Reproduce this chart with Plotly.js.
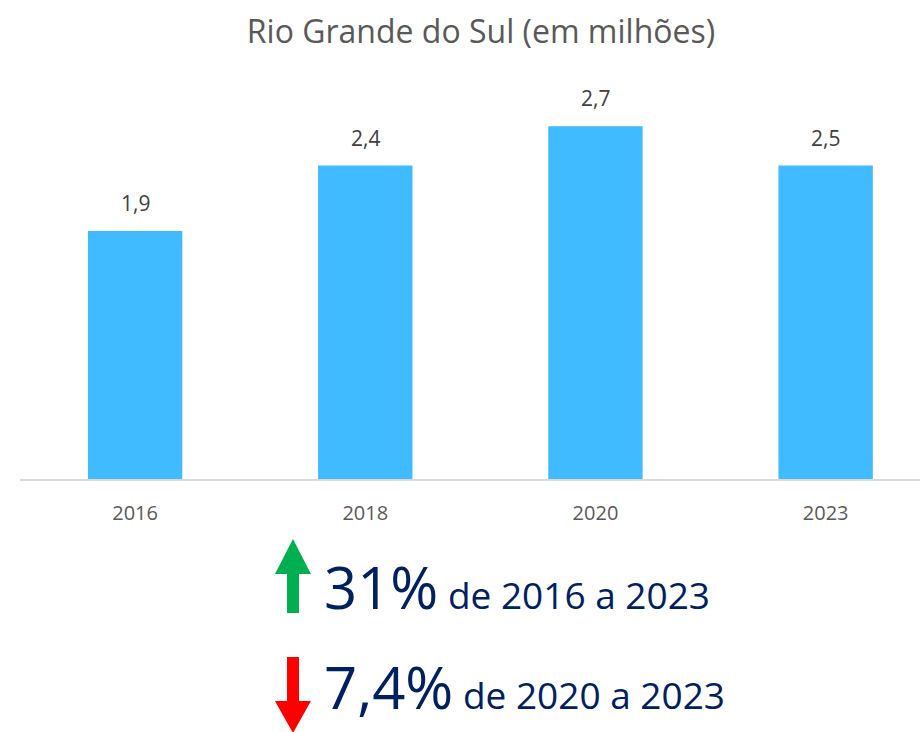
<!DOCTYPE html>
<html>
<head>
<meta charset="utf-8">
<script src="https://cdn.plot.ly/plotly-3.0.1.min.js"></script>
<style>html,body{margin:0;padding:0;background:#fff;overflow:hidden;}</style>
</head>
<body>
<div id="chart" style="width:920px;height:732px;"></div>
<script>
const categories = ["2016", "2018", "2020", "2023"];
const values = [1.9, 2.4, 2.7, 2.4];
const valueLabels = ["1,9", "2,4", "2,7", "2,5"];
const chartTitle = "Rio Grande do Sul (em milhões)";
const notes = [
  {big: "31%", small: " de 2016 a 2023", dir: "up"},
  {big: "7,4%", small: " de 2020 a 2023", dir: "down"}
];

const W = 920, H = 732;
const L = 20, R = 0, T = 87, B = 252;
const pw = W - L - R, ph = H - T - B;
const px = x => (x - L) / pw;
const py = y => (H - B - y) / ph;

function arrowPath(x0, x1, sx0, sx1, yTip, yHead, yEnd) {
  const pts = [[ (x0 + x1) / 2, yTip ], [x1, yHead], [sx1, yHead], [sx1, yEnd], [sx0, yEnd], [sx0, yHead], [x0, yHead]];
  return "M" + pts.map(p => px(p[0]).toFixed(4) + "," + py(p[1]).toFixed(4)).join(" L") + " Z";
}

const trace = {
  type: "bar",
  x: categories,
  y: values,
  marker: {color: "#40BBFF"},
  width: 0.41,
  hoverinfo: "skip"
};

const annotations = categories.map((c, i) => ({
  x: i, y: values[i], xref: "x", yref: "y",
  text: valueLabels[i], showarrow: false,
  yanchor: "bottom", yshift: 12,
  font: {family: "Open Sans, sans-serif", size: 21, color: "#404040"}
}));

const noteY = [586, 686];
notes.forEach((n, i) => {
  annotations.push({
    xref: "paper", yref: "paper",
    x: px(322), y: py(noteY[i]),
    xanchor: "left", yanchor: "middle",
    showarrow: false,
    text: n.big + "<span style='font-size:37px'>" + n.small + "</span>",
    font: {family: "Open Sans, sans-serif", size: 58, color: "#002060"}
  });
});

const shapes = [
  {type: "path", xref: "paper", yref: "paper", line: {width: 0}, fillcolor: "#00B050",
   path: arrowPath(275, 311, 287, 299, 539, 574, 613)},
  {type: "path", xref: "paper", yref: "paper", line: {width: 0}, fillcolor: "#FF0000",
   path: arrowPath(275, 311, 287, 299, 733, 701, 657)},
  {type: "line", xref: "paper", yref: "paper", x0: 0, x1: 1, y0: 0, y1: 0,
   line: {color: "#D9D9D9", width: 2}}
];

const layout = {
  width: W, height: H,
  margin: {l: L, r: R, t: T, b: B},
  paper_bgcolor: "#ffffff", plot_bgcolor: "#ffffff",
  showlegend: false,
  title: {
    text: chartTitle,
    font: {family: "Open Sans, sans-serif", size: 32, color: "#595959"},
    x: 481 / W, xref: "container", xanchor: "center",
    y: 1 - 32 / H, yref: "container", yanchor: "middle"
  },
  xaxis: {
    type: "category",
    range: [-0.5, 3.41],
    showgrid: false, zeroline: false, showline: false,
    ticks: "", ticklabelstandoff: 19,
    tickfont: {family: "Open Sans, sans-serif", size: 20, color: "#595959"},
    fixedrange: true
  },
  yaxis: {
    range: [0, 3],
    visible: false, showgrid: false, zeroline: false,
    fixedrange: true
  },
  annotations: annotations,
  shapes: shapes
};

Plotly.newPlot("chart", [trace], layout, {displayModeBar: false, staticPlot: true});
</script>
</body>
</html>
